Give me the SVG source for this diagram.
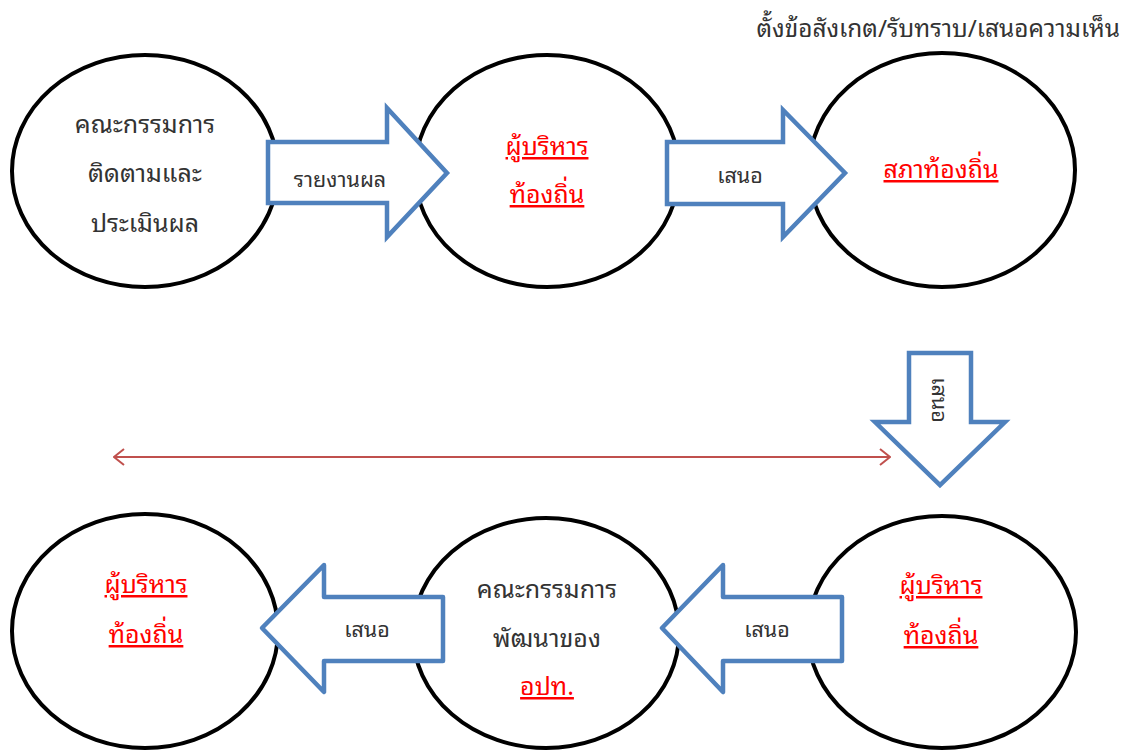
<svg xmlns="http://www.w3.org/2000/svg" width="1129" height="753" viewBox="0 0 1129 753">
<defs>
<style>
.node ellipse{fill:#fff;stroke:#000;stroke-width:4}
.t{font-family:"Noto Sans Thai Looped","Waree","Loma","Garuda","Noto Sans Thai","Noto Sans","DejaVu Sans",sans-serif;font-size:25px;fill:#333333;text-anchor:middle}
.r{fill:#ff0000;text-decoration:underline}
.blk{fill:#fff;stroke:#4f81bd;stroke-width:4.5;stroke-linejoin:miter}
.blkr{fill:#fff;stroke:#4f81bd;stroke-width:4.5;stroke-linejoin:round}
.lbl{font-family:"Noto Sans Thai Looped","Waree","Loma","Garuda","Noto Sans Thai","Noto Sans","DejaVu Sans",sans-serif;font-size:21.5px;fill:#333333;text-anchor:middle}
</style>
<marker id="chev" viewBox="0 0 12 18" refX="11" refY="9" markerWidth="12" markerHeight="18" markerUnits="userSpaceOnUse" orient="auto-start-reverse">
<path d="M1,1 L11,9 L1,17" fill="none" stroke="#c0504d" stroke-width="2"/>
</marker>
</defs>
<rect width="1129" height="753" fill="#fff"/>

<g id="node-committee-eval" class="node">
<ellipse cx="145" cy="171" rx="133" ry="116"/>
<text class="t" x="145" y="133">คณะกรรมการ</text>
<text class="t" x="145" y="182">ติดตามและ</text>
<text class="t" x="145" y="232">ประเมินผล</text>
</g>
<g id="node-exec-top" class="node">
<ellipse cx="547" cy="171" rx="132" ry="116"/>
<text class="t r" x="547" y="155">ผู้บริหาร</text>
<text class="t r" x="547" y="203">ท้องถิ่น</text>
</g>
<g id="node-council" class="node">
<ellipse cx="942" cy="170" rx="133" ry="117"/>
<text class="t r" x="941" y="178">สภาท้องถิ่น</text>
</g>
<g id="node-exec-left" class="node">
<ellipse cx="145" cy="631" rx="133" ry="117"/>
<text class="t r" x="146" y="593">ผู้บริหาร</text>
<text class="t r" x="146" y="643">ท้องถิ่น</text>
</g>
<g id="node-committee-dev" class="node">
<ellipse cx="546" cy="633" rx="133" ry="115"/>
<text class="t" x="547" y="598">คณะกรรมการ</text>
<text class="t" x="547" y="647">พัฒนาของ</text>
<text class="t r" x="547" y="695">อปท.</text>
</g>
<g id="node-exec-right" class="node">
<ellipse cx="942" cy="632" rx="134" ry="116"/>
<text class="t r" x="941" y="594">ผู้บริหาร</text>
<text class="t r" x="941" y="644">ท้องถิ่น</text>
</g>

<g id="top-note">
<text class="t" x="1120" y="37" style="text-anchor:end;font-size:24.4px">ตั้งข้อสังเกต/รับทราบ/เสนอความเห็น</text>
</g>

<g id="connectors">
<g id="arrow-report">
<polygon class="blk" points="268,142 387,142 387,108 447,173 387,237 387,203 268,203"/>
<text class="lbl" x="340" y="187">รายงานผล</text>
</g>
<g id="arrow-propose-1">
<polygon class="blk" points="667,142 783,142 783,110 845,173 783,237 783,204 667,204"/>
<text class="lbl" x="740" y="183">เสนอ</text>
</g>
<g id="arrow-propose-down">
<polygon class="blk" points="909,353 971,353 971,422 1005,422 940,485 875,422 909,422"/>
<text class="lbl" x="0" y="0" transform="translate(932,400) rotate(90)">เสนอ</text>
</g>
<g id="arrow-propose-2">
<polygon class="blkr" points="842,597 723,597 723,565 662,628 723,692 723,661 842,661"/>
<text class="lbl" x="767" y="637">เสนอ</text>
</g>
<g id="arrow-propose-3">
<polygon class="blkr" points="443,597 324,597 324,565 262,628 324,692 324,661 443,661"/>
<text class="lbl" x="367" y="637">เสนอ</text>
</g>
<line id="double-arrow" x1="114" y1="457" x2="890" y2="457" stroke="#c0504d" stroke-width="2" marker-start="url(#chev)" marker-end="url(#chev)"/>
</g>
</svg>
